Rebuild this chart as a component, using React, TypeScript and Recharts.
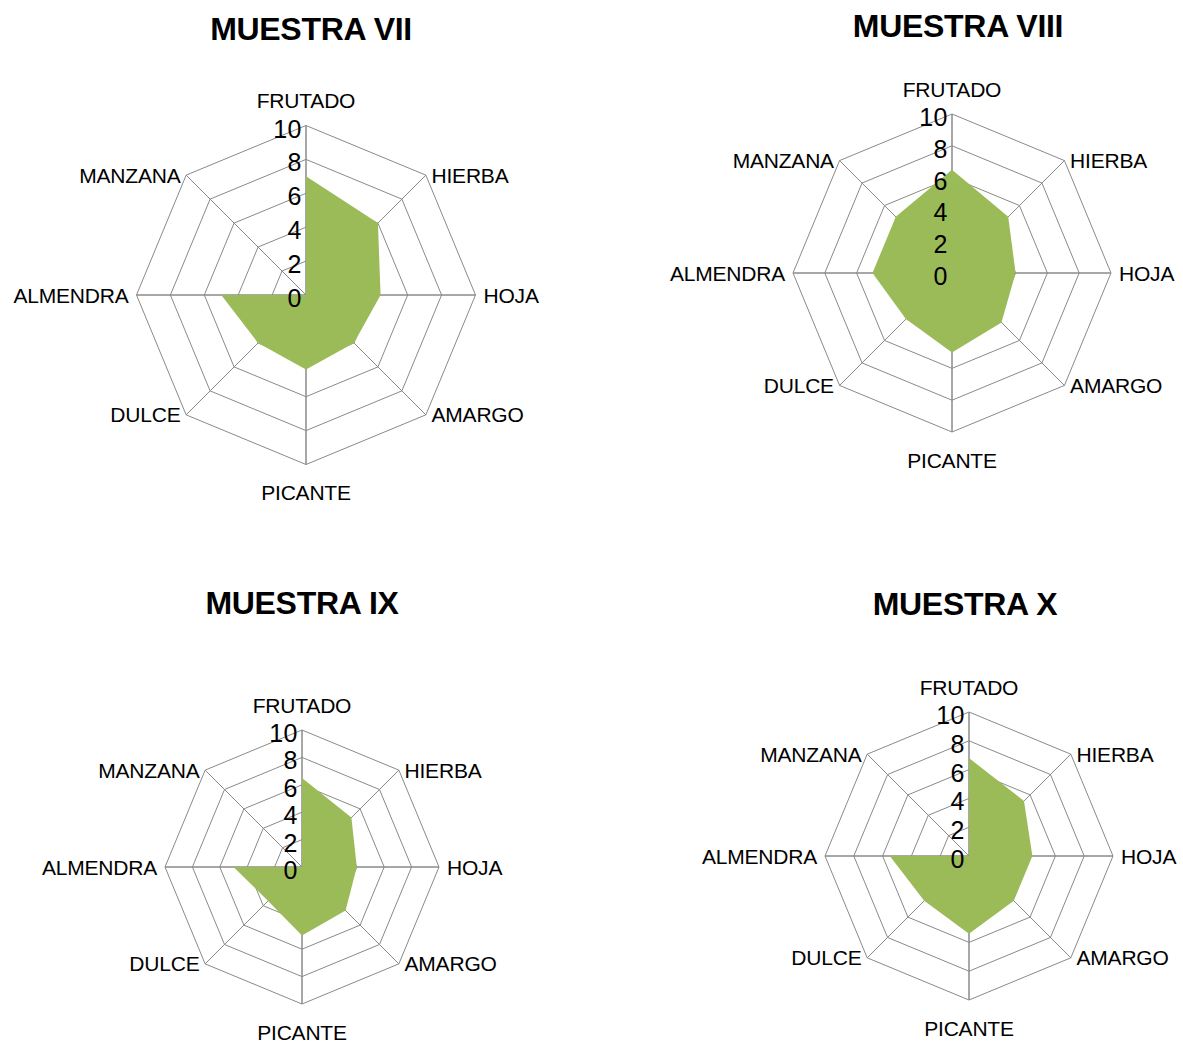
import React from 'react';
import {
  RadarChart,
  Radar,
  PolarGrid,
  PolarAngleAxis,
  PolarRadiusAxis,
} from 'recharts';

const attributes = [
  'FRUTADO',
  'HIERBA',
  'HOJA',
  'AMARGO',
  'PICANTE',
  'DULCE',
  'ALMENDRA',
  'MANZANA',
];

const muestraVII = [7, 6, 4.4, 4, 4.4, 4, 5, 0];
const muestraVIII = [6.5, 5, 4, 4.4, 5, 4.1, 5, 5];
const muestraIX = [6.5, 5.1, 4, 4.5, 5, 3.5, 5, 0];
const muestraX = [6.8, 5.4, 4.4, 4.4, 5.4, 4.4, 5.5, 0];

const radiusTicks = [0, 2, 4, 6, 8, 10];

const GRID = '#8a8a8a';
const FILL = '#9BBB59';
const FONT = '"Liberation Sans", Arial, sans-serif';

const buildData = (values: number[]) =>
  attributes.map((attr, i) => ({ attr, value: values[i] }));

// category labels: side labels centred on the vertex height, top/bottom pushed out
const AngleTick = (props: any) => {
  const { x, y, textAnchor, payload } = props;
  const rad = (payload.coordinate * Math.PI) / 180;
  let ty = y + 8 * Math.sin(rad);
  if (textAnchor === 'middle') {
    ty = Math.sin(rad) > 0 ? y - 17 : y + 20;
  }
  return (
    <text
      x={x}
      y={ty}
      textAnchor={textAnchor}
      dominantBaseline="central"
      fontFamily={FONT}
      fontSize={21}
      letterSpacing={-0.2}
      fill="#000"
    >
      {payload.value}
    </text>
  );
};

const RadiusTick = (props: any) => {
  const { x, y, payload } = props;
  return (
    <text
      x={x - 4}
      y={y + 3}
      textAnchor="end"
      dominantBaseline="central"
      fontFamily={FONT}
      fontSize={25}
      letterSpacing={0.5}
      fill="#000"
    >
      {payload.value}
    </text>
  );
};

interface PanelProps {
  title: string;
  values: number[];
  left: number;
  top: number;
  cx: number;
  cy: number;
  radius: number;
  titleX: number;
  titleY: number;
}

const Panel: React.FC<PanelProps> = ({
  title,
  values,
  left,
  top,
  cx,
  cy,
  radius,
  titleX,
  titleY,
}) => (
  <div style={{ position: 'absolute', left, top, width: 592, height: 521 }}>
    <div
      style={{
        position: 'absolute',
        left: titleX - 150,
        top: titleY - 20,
        width: 300,
        height: 40,
        lineHeight: '40px',
        textAlign: 'center',
        fontFamily: FONT,
        fontWeight: 'bold',
        fontSize: 32,
        letterSpacing: -0.3,
        color: '#000',
      }}
    >
      {title}
    </div>
    <RadarChart
      width={592}
      height={521}
      cx={cx}
      cy={cy}
      outerRadius={radius}
      data={buildData(values)}
      style={{ position: 'absolute', left: 0, top: 0 }}
    >
      <PolarGrid gridType="polygon" stroke={GRID} strokeOpacity={1} />
      <PolarAngleAxis
        dataKey="attr"
        tick={<AngleTick />}
        tickLine={false}
        axisLine={false}
      />
      <Radar
        dataKey="value"
        fill={FILL}
        fillOpacity={1}
        stroke="none"
        isAnimationActive={false}
      />
      {/* spokes again on top of the filled area */}
      <PolarGrid
        gridType="polygon"
        polarRadius={[0]}
        stroke={GRID}
        strokeOpacity={1}
      />
      <PolarRadiusAxis
        angle={90}
        domain={[0, 10]}
        ticks={radiusTicks as any}
        tickCount={6}
        axisLine={false}
        tick={<RadiusTick />}
      />
    </RadarChart>
  </div>
);

export default function App() {
  return (
    <div
      style={{
        position: 'absolute',
        left: 0,
        top: 0,
        width: 1183,
        height: 1042,
        background: '#fff',
        overflow: 'hidden',
      }}
    >
      <Panel
        title="MUESTRA VII"
        values={muestraVII}
        left={0}
        top={0}
        cx={306}
        cy={295}
        radius={169.5}
        titleX={311}
        titleY={29}
      />
      <Panel
        title="MUESTRA VIII"
        values={muestraVIII}
        left={590}
        top={0}
        cx={362}
        cy={273}
        radius={159}
        titleX={368}
        titleY={26}
      />
      <Panel
        title="MUESTRA IX"
        values={muestraIX}
        left={0}
        top={521}
        cx={302}
        cy={346}
        radius={137}
        titleX={302}
        titleY={82}
      />
      <Panel
        title="MUESTRA X"
        values={muestraX}
        left={590}
        top={521}
        cx={379}
        cy={335}
        radius={144}
        titleX={375}
        titleY={83}
      />
    </div>
  );
}
